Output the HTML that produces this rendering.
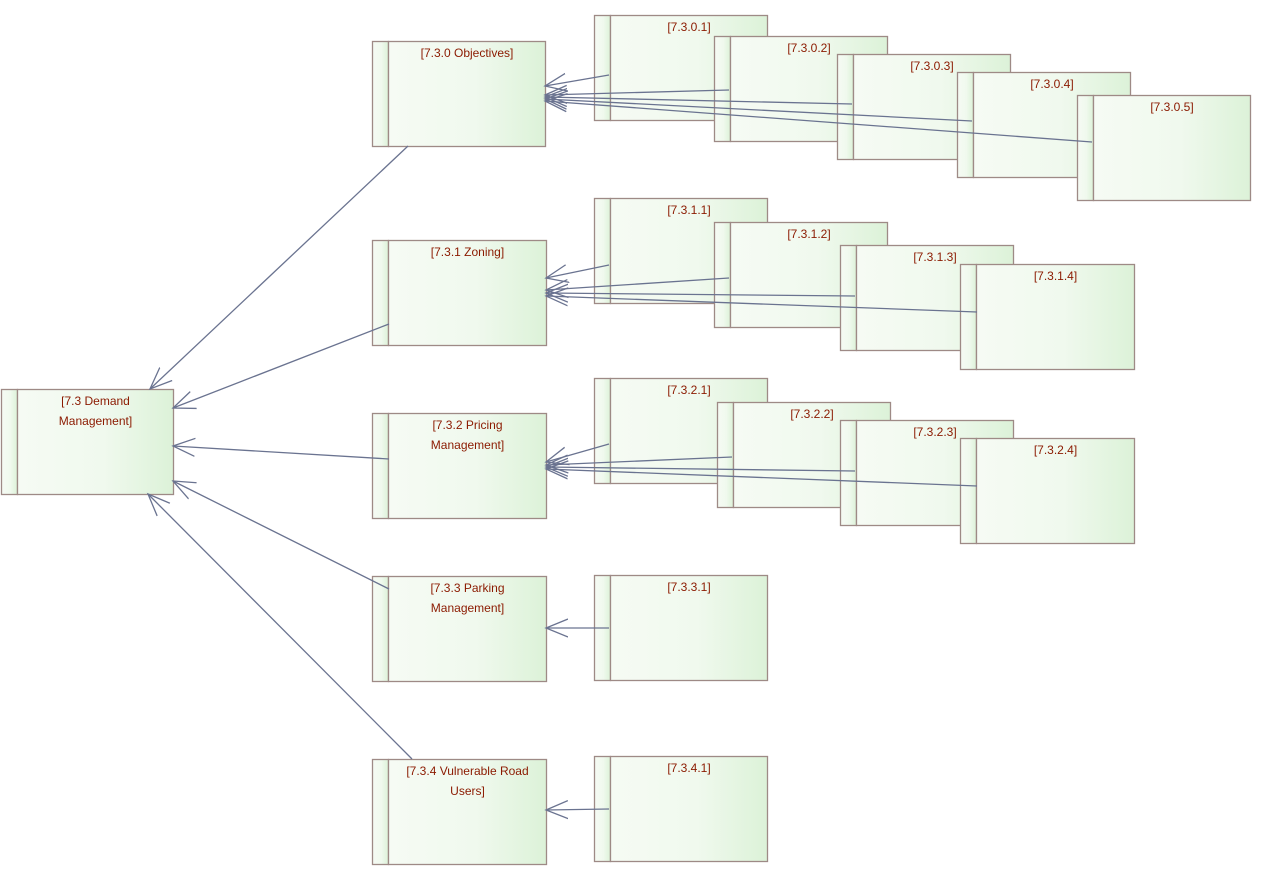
<!DOCTYPE html>
<html><head><meta charset="utf-8"><style>
html,body{margin:0;padding:0;background:#fff;width:1265px;height:879px;overflow:hidden}
text{font-family:"Liberation Sans",sans-serif;font-size:12px;fill:#8b1a00;stroke:none;text-anchor:middle}
</style></head><body>
<svg width="1265" height="879" xmlns="http://www.w3.org/2000/svg">
<defs>
<linearGradient id="g" x1="0" x2="1" y1="0" y2="0"><stop offset="0" stop-color="#f6fbf4"/><stop offset="0.55" stop-color="#f0f9ee"/><stop offset="1" stop-color="#dcf2d8"/></linearGradient>
<marker id="a" viewBox="0 0 24 20" refX="22" refY="10" markerWidth="24" markerHeight="20" markerUnits="userSpaceOnUse" orient="auto">
<path d="M0,1 L22,10 L0,19" fill="none" stroke="#6a7390" stroke-width="1.3"/></marker>
</defs>
<g stroke="#9e8a86" stroke-width="1.3" fill="url(#g)" id="boxes"></g>
<g id="lines" stroke="#6a7390" stroke-width="1.3" fill="none"></g>
</svg>
<script>
var B=[
[1,389,173,494,["[7.3 Demand","Management]"]],
[372,41,545,146,["[7.3.0 Objectives]"]],
[372,240,546,345,["[7.3.1 Zoning]"]],
[372,413,546,518,["[7.3.2 Pricing","Management]"]],
[372,576,546,681,["[7.3.3 Parking","Management]"]],
[372,759,546,864,["[7.3.4 Vulnerable Road","Users]"]],
[594,15,767,120,["[7.3.0.1]"]],
[714,36,887,141,["[7.3.0.2]"]],
[837,54,1010,159,["[7.3.0.3]"]],
[957,72,1130,177,["[7.3.0.4]"]],
[1077,95,1250,200,["[7.3.0.5]"]],
[594,198,767,303,["[7.3.1.1]"]],
[714,222,887,327,["[7.3.1.2]"]],
[840,245,1013,350,["[7.3.1.3]"]],
[960,264,1134,369,["[7.3.1.4]"]],
[594,378,767,483,["[7.3.2.1]"]],
[717,402,890,507,["[7.3.2.2]"]],
[840,420,1013,525,["[7.3.2.3]"]],
[960,438,1134,543,["[7.3.2.4]"]],
[594,575,767,680,["[7.3.3.1]"]],
[594,756,767,861,["[7.3.4.1]"]]];
var L=[[408,146,150,389],[389,324,173,408],[389,459,173,446],[389,589,173,481],[412,759,148,494],
[609,75,545,86],[729,90,545,95],[852,104,545,97],[972,121,545,99],[1092,142,545,101],
[609,265,546,278],[729,278,546,290],[855,296,546,293],[977,312,546,296],
[609,444,546,462],[732,457,546,465],[855,471,546,467],[977,486,546,469],
[609,628,546,628],[609,809,546,810]];
var NS="http://www.w3.org/2000/svg",bg=document.getElementById("boxes"),lg=document.getElementById("lines");
function el(t,a,p){var e=document.createElementNS(NS,t);for(var k in a)e.setAttribute(k,a[k]);p.appendChild(e);return e;}
B.forEach(function(b){var x=b[0]+.5,y=b[1]+.5,r=b[2]+.5,bt=b[3]+.5;
var g=el("g",{},bg);
el("rect",{x:x,y:y,width:16,height:bt-y},g);
el("rect",{x:x+16,y:y,width:r-x-16,height:bt-y},g);
var cx=(x+16+r)/2;
b[4].forEach(function(s,i){var t=el("text",{x:cx,y:b[1]+16+i*20},g);t.textContent=s;});
});
L.forEach(function(l){el("line",{x1:l[0],y1:l[1],x2:l[2],y2:l[3],"marker-end":"url(#a)"},lg);});
</script>
</body></html>
